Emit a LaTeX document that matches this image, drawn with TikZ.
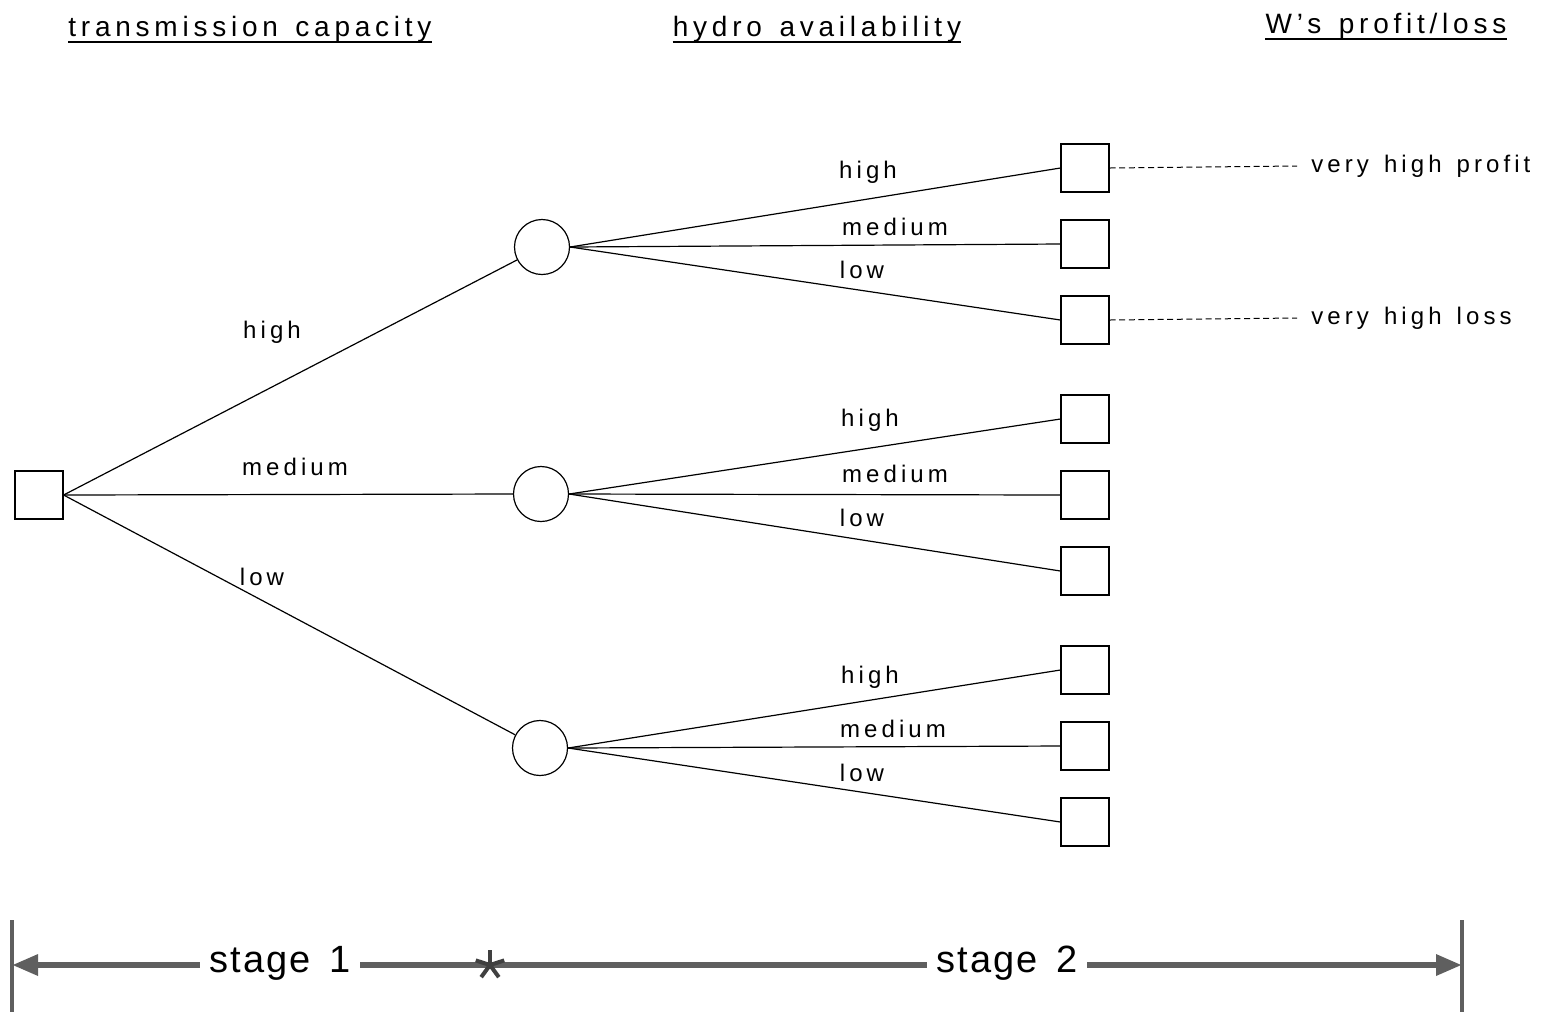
\documentclass[tikz,border=0pt]{standalone}
\usepackage{fontspec}
\setmainfont{Liberation Sans}
\newfontfamily\lblfont{Liberation Sans}[LetterSpace=17,WordSpace=1.4]
\newfontfamily\stagefont{Liberation Sans}[LetterSpace=5,WordSpace=1.5]
\usetikzlibrary{arrows.meta}
\definecolor{bargray}{RGB}{95,95,95}
\tikzset{
  leaf/.style={draw, line width=0.6pt, minimum size=24pt, inner sep=0pt},
  chance/.style={draw, circle, line width=0.6pt, minimum size=27.5pt, inner sep=0pt},
  edge/.style={line width=0.6pt},
  lbl/.style={font=\lblfont\fontsize{12pt}{14pt}\selectfont, inner sep=0pt},
  title/.style={font=\lblfont\fontsize{14pt}{16pt}\selectfont, inner sep=0pt, anchor=base},
  stagetxt/.style={font=\stagefont\fontsize{19pt}{21pt}\selectfont, fill=white, inner xsep=5pt, inner ysep=2pt},
  bar/.style={draw=bargray, line width=2pt},
  stagearrow/.style={draw=bargray, line width=3pt},
  dashline/.style={line width=0.5pt, dash pattern=on 3pt off 1.8pt},
  starmark/.style={draw=black!75, line width=2pt},
}
\begin{document}
\begin{tikzpicture}[x=0.5pt,y=-0.5pt]
\useasboundingbox (0,0) rectangle (1557,1014);
% titles
\node[title] (t1) at (250,36) {transmission capacity};
\node[title] (t2) at (817,36) {hydro availability};
\node[title] (t3) at (1386,33) {W’s profit/loss};
\foreach \t in {t1,t2,t3}{
  \draw[line width=0.8pt] ([yshift=-3pt]\t.base west) -- ([yshift=-3pt]\t.base east);
}
% decision node
\node[leaf] (root) at (39,495) {};
% chance nodes
\node[chance] (c1) at (542,247) {};
\node[chance] (c2) at (541,494) {};
\node[chance] (c3) at (540,748) {};
% leaves
\node[leaf] (l11) at (1085,168) {};
\node[leaf] (l12) at (1085,244) {};
\node[leaf] (l13) at (1085,320) {};
\node[leaf] (l21) at (1085,419) {};
\node[leaf] (l22) at (1085,495) {};
\node[leaf] (l23) at (1085,571) {};
\node[leaf] (l31) at (1085,670) {};
\node[leaf] (l32) at (1085,746) {};
\node[leaf] (l33) at (1085,822) {};
% first stage edges
\draw[edge] (root.east) -- (c1);
\draw[edge] (root.east) -- (c2.west);
\draw[edge] (root.east) -- (c3);
% second stage edges
\foreach \c/\i in {c1/1,c2/2,c3/3}{
  \draw[edge] (\c.east) -- (l\i1.west);
  \draw[edge] (\c.east) -- (l\i2.west);
  \draw[edge] (\c.east) -- (l\i3.west);
}
% first stage labels
\node[lbl] (a1) at (272,332) {high};
\node[lbl] (a2) at (295,467) {medium};
\node[lbl] (a3) at (262,577) {low};
% second stage labels
\node[lbl] (b11) at (868,172) {high};
\node[lbl] (b12) at (895,227) {medium};
\node[lbl] (b13) at (862,270) {low};
\node[lbl] (b21) at (870,420) {high};
\node[lbl] (b22) at (895,474) {medium};
\node[lbl] (b23) at (862,518) {low};
\node[lbl] (b31) at (870,677) {high};
\node[lbl] (b32) at (893,729) {medium};
\node[lbl] (b33) at (862,773) {low};
% outcomes
\node[lbl, anchor=west] (o1) at (1311,166) {very high profit};
\node[lbl, anchor=west] (o2) at (1311,318) {very high loss};
\draw[dashline] (l11.east) -- (o1.west -| 1297,0);
\draw[dashline] (l13.east) -- (o2.west -| 1297,0);
% stage bar
\coordinate (bl) at (12,965);
\coordinate (br) at (1462,965);
\draw[bar] (12,920) -- (12,1012);
\draw[bar] (1462,920) -- (1462,1012);
\draw[stagearrow, {Triangle[length=13pt,width=10pt]}-{Triangle[length=13pt,width=10pt]}] (bl) -- (br);
\node[stagetxt] (s1) at (280,963) {stage 1};
\node[stagetxt] (s2) at (1007,963) {stage 2};
\coordinate (star) at (490,965);
\foreach \a in {-90,-18,-162,54,126}{
  \draw[starmark] (star) -- ++(\a:15);
}
\end{tikzpicture}
\end{document}
